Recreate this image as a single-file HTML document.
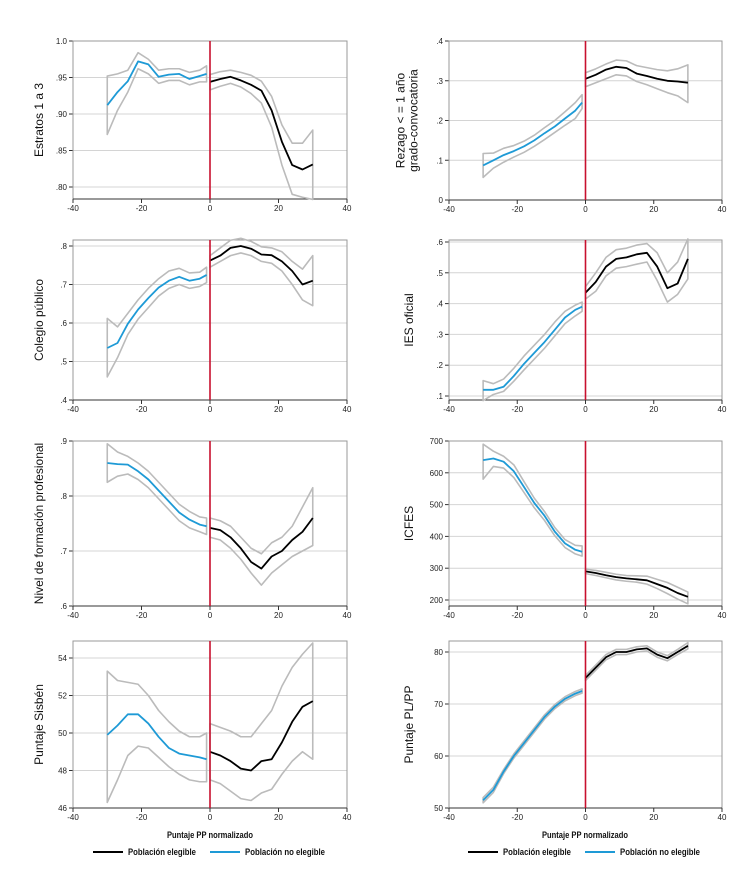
<!DOCTYPE html>
<html><head><meta charset="utf-8"><style>
body{margin:0;background:#fff}
svg{font-family:"Liberation Sans",sans-serif}
</style></head><body>
<svg id="c" width="748" height="886"></svg>
<script>
const xsL=[-30,-27,-24,-21,-18,-15,-12,-9,-6,-3,-1];
const xsR=[0,3,6,9,12,15,18,21,24,27,30];
const xTicks=[-40,-20,0,20,40];
// Panel 1 Estratos
const p1L=[.912,.93,.945,.972,.968,.951,.954,.955,.948,.952,.955];
const p1Lu=[.952,.955,.96,.984,.975,.96,.962,.962,.957,.96,.966];
const p1Ll=[.872,.905,.93,.962,.955,.942,.946,.946,.94,.944,.944];
const p1R=[.944,.948,.951,.946,.94,.932,.905,.862,.83,.824,.831];
const p1Ru=[.954,.958,.96,.957,.953,.945,.924,.885,.86,.86,.878];
const p1Rl=[.933,.938,.942,.937,.928,.915,.882,.83,.79,.786,.783];
// Panel 2 Colegio
const p2L=[.535,.548,.598,.635,.665,.692,.71,.72,.71,.715,.725];
const p2Lu=[.612,.59,.625,.66,.69,.715,.735,.742,.73,.732,.745];
const p2Ll=[.46,.51,.57,.61,.64,.67,.69,.7,.69,.695,.705];
const p2R=[.762,.775,.795,.8,.793,.778,.776,.76,.735,.7,.71];
const p2Ru=[.775,.795,.815,.82,.812,.798,.795,.785,.76,.74,.775];
const p2Rl=[.745,.76,.775,.782,.775,.76,.755,.735,.7,.66,.645];
// Panel 3 Nivel
const p3L=[.86,.858,.857,.845,.83,.81,.79,.77,.757,.748,.745];
const p3Lu=[.895,.88,.872,.86,.845,.825,.805,.785,.772,.762,.76];
const p3Ll=[.825,.836,.84,.83,.815,.795,.775,.755,.742,.735,.73];
const p3R=[.742,.738,.725,.705,.68,.668,.69,.7,.72,.735,.76];
const p3Ru=[.76,.755,.745,.725,.705,.695,.715,.725,.745,.78,.815];
const p3Rl=[.725,.72,.705,.685,.66,.638,.66,.675,.69,.7,.71];
// Panel 4 Sisben
const p4L=[49.9,50.4,51.0,51.0,50.5,49.8,49.2,48.9,48.8,48.7,48.6];
const p4Lu=[53.3,52.8,52.7,52.6,52.0,51.2,50.6,50.1,49.8,49.8,50.0];
const p4Ll=[46.3,47.5,48.8,49.3,49.2,48.7,48.2,47.8,47.5,47.4,47.4];
const p4R=[49.0,48.8,48.5,48.1,48.0,48.5,48.6,49.5,50.6,51.4,51.7];
const p4Ru=[50.5,50.3,50.1,49.8,49.8,50.5,51.2,52.5,53.5,54.2,54.8];
const p4Rl=[47.5,47.3,46.9,46.5,46.4,46.8,47.0,47.8,48.5,49.0,48.6];
// Panel 5 Rezago
const p5L=[.087,.1,.113,.123,.135,.15,.168,.185,.205,.225,.245];
const p5Lu=[.117,.118,.13,.137,.148,.163,.182,.2,.222,.245,.265];
const p5Ll=[.057,.08,.095,.108,.12,.135,.152,.17,.188,.205,.23];
const p5R=[.305,.315,.328,.335,.332,.318,.312,.305,.3,.298,.295];
const p5Ru=[.32,.33,.342,.352,.35,.338,.333,.328,.325,.33,.34];
const p5Rl=[.285,.295,.305,.315,.312,.298,.29,.28,.27,.262,.245];
// Panel 6 IES
const p6L=[.12,.12,.13,.165,.205,.24,.275,.315,.355,.38,.39];
const p6Lu=[.15,.14,.155,.19,.23,.265,.3,.34,.375,.395,.405];
const p6Ll=[.085,.105,.115,.148,.185,.22,.255,.295,.335,.36,.375];
const p6R=[.435,.47,.52,.545,.55,.56,.565,.52,.45,.465,.545];
const p6Ru=[.455,.5,.55,.575,.58,.59,.595,.565,.5,.535,.61];
const p6Rl=[.415,.44,.49,.515,.52,.528,.535,.475,.405,.43,.48];
// Panel 7 ICFES
const p7L=[640,645,635,605,555,505,465,415,378,358,352];
const p7Lu=[690,668,652,625,572,520,478,428,390,372,370];
const p7Ll=[580,620,615,585,538,490,450,402,365,345,338];
const p7R=[290,285,278,272,268,265,262,250,238,222,210];
const p7Ru=[297,293,287,281,277,276,275,265,255,240,225];
const p7Rl=[283,277,270,263,259,256,250,236,220,203,188];
// Panel 8 Puntaje PL
const p8L=[51.5,53.5,57,60,62.5,65,67.5,69.5,71,72,72.5];
const p8Lu=[52,54,57.4,60.4,62.9,65.4,67.9,69.9,71.4,72.4,72.9];
const p8Ll=[51,53,56.6,59.6,62.1,64.6,67.1,69.1,70.6,71.6,72.1];
const p8R=[75,77,79,80,80,80.5,80.7,79.5,78.8,80,81.2];
const p8Ru=[75.5,77.5,79.5,80.5,80.5,81,81.2,80,79.3,80.5,81.8];
const p8Rl=[74.5,76.5,78.5,79.5,79.5,80,80.2,79,78.3,79.5,80.6];
const ticks1=[.80,.85,.90,.95,1.0], tl1=[".80",".85",".90",".95","1.0"];
const ticks2=[.4,.5,.6,.7,.8], tl2=[".4",".5",".6",".7",".8"];
const ticks3=[.6,.7,.8,.9], tl3=[".6",".7",".8",".9"];
const ticks4=[46,48,50,52,54], tl4=["46","48","50","52","54"];
const ticks5=[0,.1,.2,.3,.4], tl5=["0",".1",".2",".3",".4"];
const ticks6=[.1,.2,.3,.4,.5,.6], tl6=[".1",".2",".3",".4",".5",".6"];
const ticks7=[200,300,400,500,600,700], tl7=["200","300","400","500","600","700"];
const ticks8=[50,60,70,80], tl8=["50","60","70","80"];

const svg=document.getElementById('c');
const NS='http://www.w3.org/2000/svg';
function mk(t,a,p){const e=document.createElementNS(NS,t);for(const k in a)e.setAttribute(k,a[k]);(p||svg).appendChild(e);return e;}
const panels=[
 {n:'estratos',x0:73,x1:347,top:41,bot:199,va:.80,pa:187,vb:1.0,pb:41,t:ticks1,tl:tl1,lab:['Estratos 1 a 3'],lx:40,d:[p1L,p1Lu,p1Ll,p1R,p1Ru,p1Rl]},
 {n:'colegio-publico',x0:73,x1:347,top:240,bot:400,va:.4,pa:400,vb:.8,pb:246,t:ticks2,tl:tl2,lab:['Colegio público'],lx:40,d:[p2L,p2Lu,p2Ll,p2R,p2Ru,p2Rl]},
 {n:'nivel-formacion',x0:73,x1:347,top:441,bot:606,va:.6,pa:606,vb:.9,pb:441,t:ticks3,tl:tl3,lab:['Nivel de formación profesional'],lx:40,d:[p3L,p3Lu,p3Ll,p3R,p3Ru,p3Rl]},
 {n:'puntaje-sisben',x0:73,x1:347,top:641,bot:808,va:46,pa:808,vb:54,pb:658,t:ticks4,tl:tl4,lab:['Puntaje Sisbén'],lx:40,d:[p4L,p4Lu,p4Ll,p4R,p4Ru,p4Rl]},
 {n:'rezago',x0:449,x1:722,top:41,bot:200,va:0,pa:200,vb:.4,pb:41,t:ticks5,tl:tl5,lab:['Rezago < = 1 año','grado-convocatoria'],lx:408,d:[p5L,p5Lu,p5Ll,p5R,p5Ru,p5Rl]},
 {n:'ies-oficial',x0:449,x1:722,top:240,bot:400,va:.1,pa:396,vb:.6,pb:242,t:ticks6,tl:tl6,lab:['IES oficial'],lx:410,d:[p6L,p6Lu,p6Ll,p6R,p6Ru,p6Rl]},
 {n:'icfes',x0:449,x1:722,top:441,bot:606,va:200,pa:600,vb:700,pb:441,t:ticks7,tl:tl7,lab:['ICFES'],lx:410,d:[p7L,p7Lu,p7Ll,p7R,p7Ru,p7Rl]},
 {n:'puntaje-pl',x0:449,x1:722,top:641,bot:808,va:50,pa:808,vb:80,pb:652,t:ticks8,tl:tl8,lab:['Puntaje PL/PP'],lx:410,d:[p8L,p8Lu,p8Ll,p8R,p8Ru,p8Rl]}
];
panels.forEach(P=>{
 const g=mk('g',{});
 
 
 const X=v=>P.x0+(v+40)/80*(P.x1-P.x0);
 const Y=v=>P.pa+(v-P.va)/(P.vb-P.va)*(P.pb-P.pa);
 P.t.forEach((v,i)=>{
  const gl=mk('line',{x1:P.x0,x2:P.x1,y1:Y(v),y2:Y(v),stroke:'#d4d4d4','stroke-width':1},g);
  
  
  mk('line',{x1:P.x0-4,x2:P.x0,y1:Y(v),y2:Y(v),stroke:'#333'},g);
  const t=mk('text',{x:P.x0-6,y:Y(v)+3,'font-size':8,'text-anchor':'end',fill:'#222'},g);
  t.textContent=P.tl[i];
  
  
 });
 mk('rect',{x:P.x0,y:P.top,width:P.x1-P.x0,height:P.bot-P.top,fill:'none',stroke:'#999'},g);
 mk('line',{x1:P.x0,x2:P.x1,y1:P.bot,y2:P.bot,stroke:'#333'},g);
 xTicks.forEach(v=>{
  mk('line',{x1:X(v),x2:X(v),y1:P.bot,y2:P.bot+4,stroke:'#333'},g);
  const t=mk('text',{x:X(v),y:P.bot+12,'font-size':8,'text-anchor':'middle',fill:'#222'},g);
  t.textContent=v;
  
  
 });
 const pts=(xs,ys)=>xs.map((x,i)=>X(x).toFixed(1)+','+Y(ys[i]).toFixed(1)).join(' ');
 const [L,Lu,Ll,R,Ru,Rl]=P.d;
 const band=(xs,u,l,nm)=>{
  const poly=xs.map((x,i)=>X(x)+','+Y(u[i])).concat(xs.slice().reverse().map((x,i)=>X(x)+','+Y(l[l.length-1-i])));
  const e=mk('polygon',{points:poly.join(' '),fill:'none',stroke:'#bbb','stroke-width':1.6,'stroke-linejoin':'round'},g);
  
  
 };
 band(xsL,Lu,Ll,'ci-band-non-eligible');
 band(xsR,Ru,Rl,'ci-band-eligible');
 const a=mk('polyline',{points:pts(xsL,L),fill:'none',stroke:'#1e9ad6','stroke-width':1.8,'stroke-linejoin':'round'},g);
 
 
 const b=mk('polyline',{points:pts(xsR,R),fill:'none',stroke:'#000','stroke-width':1.8,'stroke-linejoin':'round'},g);
 
 
 const c=mk('line',{x1:X(0),x2:X(0),y1:P.top,y2:P.bot,stroke:'#c8102e','stroke-width':1.6},g);
 
 
 const cy=(P.top+P.bot)/2, n=P.lab.length;
 P.lab.forEach((s,i)=>{
  const lx=P.lx+(i-(n-1)/2)*13;
  const t=mk('text',{x:lx,y:cy,'font-size':12,'text-anchor':'middle',fill:'#111',transform:`rotate(-90 ${lx} ${cy})`,'dominant-baseline':'middle'},g);
  t.textContent=s;
  
  
 });
});
[[210,93],[585,468]].forEach(([cx,lx])=>{
 const t=mk('text',{x:cx,y:838,'font-size':9,'font-weight':'bold','text-anchor':'middle',fill:'#111',textLength:86,lengthAdjust:'spacingAndGlyphs'});
 t.textContent='Puntaje PP normalizado';
 
 
 const l1=mk('line',{x1:lx,x2:lx+30,y1:852,y2:852,stroke:'#000','stroke-width':2});
 
 
 const t1=mk('text',{x:lx+35,y:855,'font-size':9,'font-weight':'bold',fill:'#111',textLength:68,lengthAdjust:'spacingAndGlyphs'});
 t1.textContent='Población elegible';
 
 
 const l2=mk('line',{x1:lx+117,x2:lx+147,y1:852,y2:852,stroke:'#1e9ad6','stroke-width':2});
 
 
 const t2=mk('text',{x:lx+152,y:855,'font-size':9,'font-weight':'bold',fill:'#111',textLength:80,lengthAdjust:'spacingAndGlyphs'});
 t2.textContent='Población no elegible';
 
 
});
</script>
</body></html>
